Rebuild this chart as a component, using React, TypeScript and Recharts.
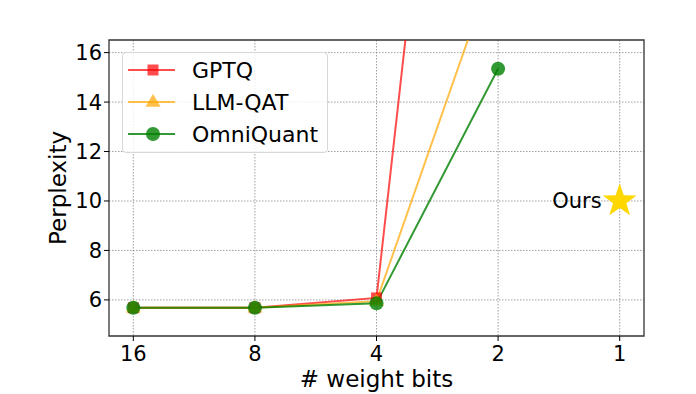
import React from "react";
import {
  ComposedChart,
  Line,
  Scatter,
  XAxis,
  YAxis,
  CartesianGrid,
  ReferenceArea,
} from "recharts";

const bits = ["16", "8", "4", "2", "1"];
const gptq = [5.68, 5.68, 6.08, 50];
const llmQat = [5.68, 5.68, 5.95, 20];
const omniQuant = [5.68, 5.68, 5.86, 15.35];
const oursBits = "1";
const oursPpl = 10.0;
const yTicks = [6, 8, 10, 12, 14, 16];

const FONT = "'DejaVu Sans', sans-serif";
const X_DOMAIN: [number, number] = [-0.2, 4.2];
const Y_DOMAIN: [number, number] = [4.54, 16.51];

const data = bits.map((b, i) => ({
  x: i,
  gptq: gptq[i],
  llmQat: llmQat[i],
  omniQuant: omniQuant[i],
}));
const oursData = [{ x: bits.indexOf(oursBits), y: oursPpl }];

const SQ = 11;
const TRI = 8;
const CIRC = 7;

const triPoints = (cx: number, cy: number, r: number) =>
  `${cx},${cy - r} ${cx - r * 0.95},${cy + r * 0.6} ${cx + r * 0.95},${cy + r * 0.6}`;

const squareDot = (props: any) => {
  const { cx, cy, index } = props;
  if (cx == null || cy == null) return <g key={`s-${index}`} />;
  return (
    <rect
      key={`s-${index}`}
      x={cx - SQ / 2}
      y={cy - SQ / 2}
      width={SQ}
      height={SQ}
      fill="red"
      fillOpacity={0.7}
    />
  );
};

const triDot = (props: any) => {
  const { cx, cy, index } = props;
  if (cx == null || cy == null) return <g key={`t-${index}`} />;
  return (
    <polygon
      key={`t-${index}`}
      points={triPoints(cx, cy, TRI)}
      fill="orange"
      fillOpacity={0.7}
    />
  );
};

const circDot = (props: any) => {
  const { cx, cy, index } = props;
  if (cx == null || cy == null) return <g key={`c-${index}`} />;
  return (
    <circle
      key={`c-${index}`}
      cx={cx}
      cy={cy}
      r={CIRC}
      fill="green"
      fillOpacity={0.8}
    />
  );
};

const starPoints = (cx: number, cy: number, R: number, r: number) => {
  const pts: string[] = [];
  for (let i = 0; i < 10; i++) {
    const rad = i % 2 === 0 ? R : r;
    const a = -Math.PI / 2 + (i * Math.PI) / 5;
    pts.push(`${cx + rad * Math.cos(a)},${cy + rad * Math.sin(a)}`);
  }
  return pts.join(" ");
};

const OursShape = (props: any) => {
  const { cx, cy } = props;
  return (
    <g>
      <polygon points={starPoints(cx, cy, 17.7, 7)} fill="gold" />
      <text
        x={cx - 18}
        y={cy}
        textAnchor="end"
        dominantBaseline="central"
        fontFamily={FONT}
        fontSize={21}
        fill="#000"
      >
        Ours
      </text>
    </g>
  );
};

const legendItems = [
  { name: "GPTQ", color: "red", opacity: 0.7, kind: "square" },
  { name: "LLM-QAT", color: "orange", opacity: 0.7, kind: "tri" },
  { name: "OmniQuant", color: "green", opacity: 0.8, kind: "circle" },
];

function LegendBox() {
  return (
    <div
      style={{
        position: "absolute",
        left: 122,
        top: 52,
        width: 206,
        height: 101,
        border: "1px solid #d8d8d8",
        borderRadius: 4,
        background: "rgba(255,255,255,0.8)",
        boxSizing: "border-box",
      }}
    >
      <svg width={206} height={101} style={{ position: "absolute", left: -1, top: -1 }}>
        {legendItems.map((it, i) => {
          const y = 18 + i * 32;
          const mx = 31;
          return (
            <g key={it.name}>
              <line
                x1={6}
                x2={53}
                y1={y}
                y2={y}
                stroke={it.color}
                strokeOpacity={it.opacity}
                strokeWidth={2}
              />
              {it.kind === "square" && (
                <rect
                  x={mx - SQ / 2}
                  y={y - SQ / 2}
                  width={SQ}
                  height={SQ}
                  fill={it.color}
                  fillOpacity={it.opacity}
                />
              )}
              {it.kind === "tri" && (
                <polygon points={triPoints(mx, y, TRI)} fill={it.color} fillOpacity={it.opacity} />
              )}
              {it.kind === "circle" && (
                <circle cx={mx} cy={y} r={CIRC} fill={it.color} fillOpacity={it.opacity} />
              )}
              <text
                x={70}
                y={y}
                dominantBaseline="central"
                fontFamily={FONT}
                fontSize={22}
                fill="#000"
              >
                {it.name}
              </text>
            </g>
          );
        })}
      </svg>
    </div>
  );
}

export default function App() {
  return (
    <div
      style={{
        position: "absolute",
        left: 0,
        top: 0,
        width: 696,
        height: 394,
        background: "#fff",
      }}
    >
      <ComposedChart
        width={696}
        height={394}
        data={data}
        margin={{ top: 40, right: 52, bottom: 0, left: 0 }}
      >
        <CartesianGrid
          stroke="#888"
          strokeDasharray="1.5 1.5"
          strokeWidth={0.8}
          horizontalValues={yTicks}
          verticalValues={[0, 1, 2, 3, 4]}
        />
        <XAxis
          dataKey="x"
          type="number"
          domain={X_DOMAIN}
          ticks={[0, 1, 2, 3, 4]}
          tickFormatter={(v: number) => bits[v]}
          allowDataOverflow
          height={58}
          tickSize={5}
          tickMargin={5}
          tick={{ fontFamily: FONT, fontSize: 21, fill: "#000" }}
          tickLine={{ stroke: "#000" }}
          axisLine={false}
          label={{
            value: "# weight bits",
            position: "insideBottom",
            offset: 7,
            style: { fontFamily: FONT, fontSize: 23, fill: "#000" },
          }}
        />
        <YAxis
          type="number"
          domain={Y_DOMAIN}
          ticks={yTicks}
          allowDataOverflow
          width={109}
          tickSize={5}
          tickMargin={2}
          tick={{ fontFamily: FONT, fontSize: 21, fill: "#000" }}
          tickLine={{ stroke: "#000" }}
          axisLine={false}
          label={{
            value: "Perplexity",
            angle: -90,
            position: "insideLeft",
            offset: 58,
            style: {
              fontFamily: FONT,
              fontSize: 23,
              fill: "#000",
              textAnchor: "middle",
            },
          }}
        />
        <ReferenceArea
          x1={X_DOMAIN[0]}
          x2={X_DOMAIN[1]}
          y1={Y_DOMAIN[0]}
          y2={Y_DOMAIN[1]}
          fill="none"
          stroke="#333"
          strokeWidth={1.3}
          ifOverflow="visible"
        />
        <Line
          dataKey="gptq"
          stroke="red"
          strokeOpacity={0.7}
          strokeWidth={2}
          dot={squareDot}
          activeDot={false}
          isAnimationActive={false}
        />
        <Line
          dataKey="llmQat"
          stroke="orange"
          strokeOpacity={0.7}
          strokeWidth={2}
          dot={triDot}
          activeDot={false}
          isAnimationActive={false}
        />
        <Line
          dataKey="omniQuant"
          stroke="green"
          strokeOpacity={0.8}
          strokeWidth={2}
          dot={circDot}
          activeDot={false}
          isAnimationActive={false}
        />
        <Scatter
          data={oursData}
          dataKey="y"
          shape={OursShape}
          isAnimationActive={false}
        />
      </ComposedChart>
      <LegendBox />
    </div>
  );
}
